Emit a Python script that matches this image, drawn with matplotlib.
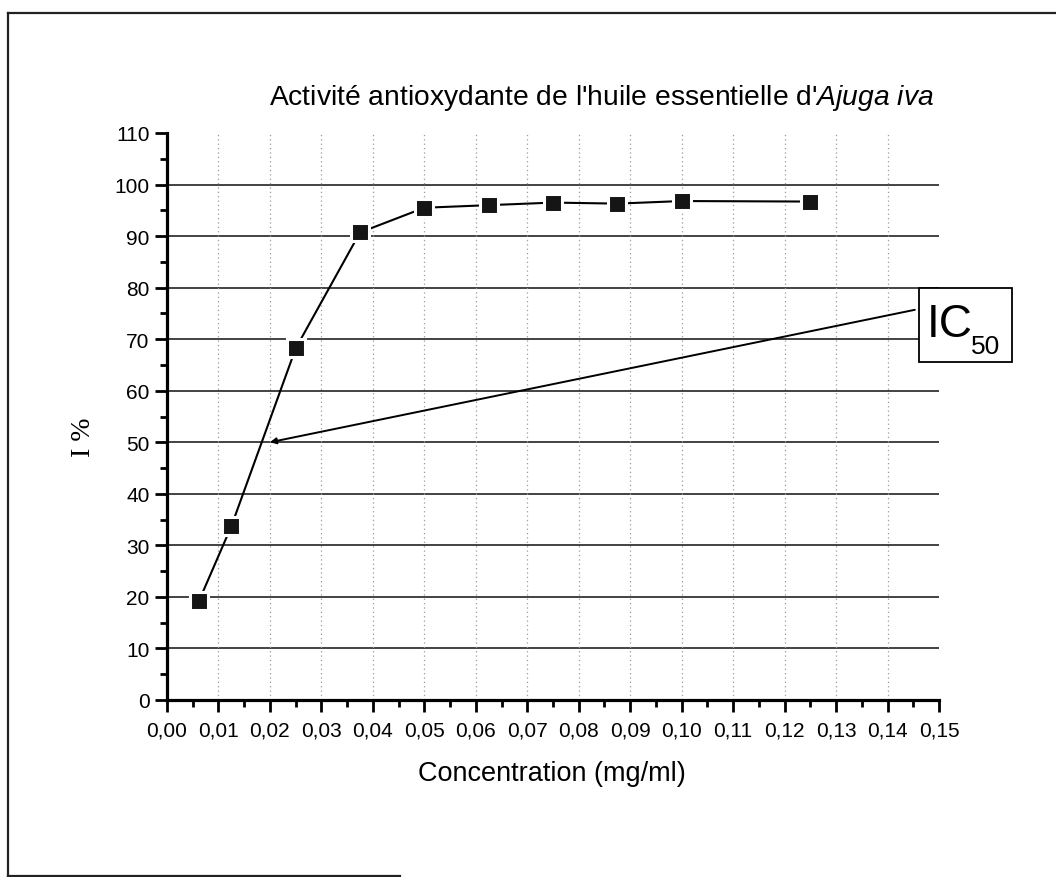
import matplotlib
matplotlib.use("Agg")
import matplotlib.pyplot as plt
from matplotlib.lines import Line2D
from matplotlib.patches import Rectangle
import numpy as np

# ---- data ----
conc = [0.00625, 0.0125, 0.025, 0.0375, 0.05, 0.0625, 0.075, 0.0875, 0.1, 0.125]
inhib = [19.3, 33.7, 68.2, 90.7, 95.5, 96.0, 96.5, 96.3, 96.8, 96.7]
x_ticks = [round(0.01 * i, 2) for i in range(16)]
y_ticks = list(range(0, 111, 10))
ic50_point = (0.02, 50)
title_main = "Activité antioxydante de l'huile essentielle d'"
title_species = r"$\mathit{Ajuga\ iva}$"
x_label = "Concentration (mg/ml)"
y_label = "I %"

plt.rcParams['font.family'] = ['Liberation Sans', 'DejaVu Sans']
plt.rcParams['mathtext.fontset'] = 'custom'
plt.rcParams['mathtext.rm'] = 'Liberation Sans'
plt.rcParams['mathtext.it'] = 'Liberation Sans:italic'

W, H = 1056, 878
fig = plt.figure(figsize=(W / 100, H / 100), dpi=100)
fig.patch.set_facecolor('white')

def fx(px):
    return px / W

def fy(py):
    return 1 - py / H

ax = fig.add_axes([fx(167), fy(701), fx(939 - 167), (701 - 134) / H])
ax.set_xlim(0, 0.15)
ax.set_ylim(0, 110)

# grid lines
for v in y_ticks:
    if 0 < v < 110:
        ax.axhline(v, color='#222222', lw=1.2, zorder=1)
for v in x_ticks:
    if 0 < v < 0.15:
        ax.axvline(v, color='#9a9a9a', lw=0.9, ls=(0, (1, 2.5)), zorder=1)

# data
ax.plot(conc, inhib, color='black', lw=1.5, zorder=3)
ax.plot(conc, inhib, ls='none', marker='s', ms=12.3, mfc='#151515',
        mec='white', mew=2.2, zorder=4)

# spines / ticks
for s in ['top', 'right']:
    ax.spines[s].set_visible(False)
for s in ['left', 'bottom']:
    ax.spines[s].set_linewidth(2.3)
ax.set_xticks(x_ticks)
ax.set_xticks(np.arange(0.005, 0.15, 0.01), minor=True)
ax.set_yticks(y_ticks)
ax.set_yticks(np.arange(5, 110, 10), minor=True)
ax.set_xticklabels([f"{v:.2f}".replace('.', ',') for v in x_ticks])
ax.set_yticklabels([str(v) for v in y_ticks])
ax.tick_params(which='major', direction='out', length=8.5, width=2.0,
               labelsize=15, pad=4)
ax.tick_params(which='minor', direction='out', length=5, width=2.0)
ax.tick_params(axis='x', which='major', pad=6)

# IC50 arrow
ax.annotate('', xy=ic50_point, xytext=(0.1453, 75.7),
            arrowprops=dict(arrowstyle='-|>', color='black', lw=1.4,
                            mutation_scale=9, shrinkA=0, shrinkB=0),
            annotation_clip=False, zorder=5)

# IC50 box
fig.add_artist(Rectangle((fx(919), fy(363)), fx(1012 - 919), (363 - 289) / H,
                         transform=fig.transFigure, fill=True, facecolor='white',
                         edgecolor='black', lw=1.3, zorder=6))
fig.text(fx(927), fy(337), "IC", fontsize=33, va='baseline', ha='left', zorder=7)
fig.text(fx(971), fy(354), "50", fontsize=19, va='baseline', ha='left', zorder=7)

# titles
fig.text(fx(602), fy(98), title_main + title_species, fontsize=20.3,
         ha='center', va='center')
fig.text(fx(552), fy(774), x_label, fontsize=19.5, ha='center', va='center')
fig.text(fx(83), fy(437), y_label, fontsize=20, rotation=90, ha='center',
         va='center', family=['Liberation Serif', 'DejaVu Serif'])

# outer frame
frame_kw = dict(color='#222222', lw=1.6, transform=fig.transFigure)
fig.add_artist(Line2D([fx(8), fx(8)], [fy(14), fy(877)], **frame_kw))
fig.add_artist(Line2D([fx(8), 1.0], [fy(14), fy(14)], **frame_kw))
fig.add_artist(Line2D([fx(8), fx(400)], [fy(877), fy(877)], **frame_kw))

fig.savefig('out.png', dpi=100)
